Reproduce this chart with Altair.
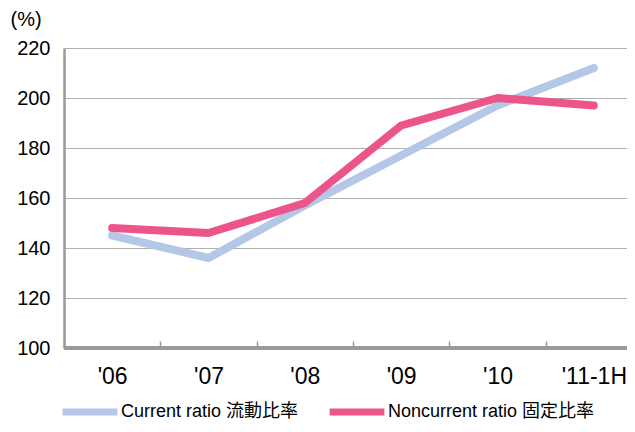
import altair as alt
import pandas as pd

years = ["'06", "'07", "'08", "'09", "'10", "'11-1H"]
current = [145, 136, 157, 177, 197, 212]
noncurrent = [148, 146, 158, 189, 200, 197]
series_names = ["Current ratio 流動比率", "Noncurrent ratio 固定比率"]
series_colors = ["#b4c7e7", "#ec558b"]

rows = []
for i, y in enumerate(years):
    rows.append({"year": y, "series": series_names[0], "value": current[i], "order": i})
    rows.append({"year": y, "series": series_names[1], "value": noncurrent[i], "order": i})
df = pd.DataFrame(rows)

FONT = "Liberation Sans, Arial, 'Noto Sans CJK JP', sans-serif"

x = alt.X("year:N", sort=years, scale=alt.Scale(range=[0, 578], paddingInner=0, paddingOuter=0),
          axis=alt.Axis(title=None, labelAngle=0, labelFontSize=23, labelColor="#000",
                        labelFont=FONT, domain=False, tickBand="extent", tickColor="#999",
                        tickWidth=1.5, tickSize=7, offset=-7, labelPadding=17, grid=False))
y = alt.Y("value:Q", scale=alt.Scale(domain=[100, 220], nice=False, zero=False),
          axis=alt.Axis(values=[100, 120, 140, 160, 180, 200, 220], title="(%)", titleAngle=0,
                        titleAlign="left", titleBaseline="middle", titleX=-54, titleY=-29,
                        titleFontSize=20, titleFontWeight="normal", titleFont=FONT, titleColor="#000",
                        labelFontSize=20, labelFont=FONT, labelColor="#000", labelPadding=14,
                        tickSize=0, domainColor="#999", domainWidth=2.5,
                        gridColor="#b0b0b0", gridWidth=1.2))

lines = alt.Chart(df).mark_line(strokeWidth=8, strokeCap="round", strokeJoin="round").encode(
    x=x, y=y, order="order:Q",
    color=alt.Color("series:N", sort=series_names,
                    scale=alt.Scale(domain=series_names, range=series_colors),
                    legend=alt.Legend(title=None, orient="none", direction="horizontal",
                                      legendX=-5, legendY=333, symbolType="stroke",
                                      symbolSize=3000, symbolStrokeWidth=7,
                                      labelFontSize=18, labelFont=FONT, labelColor="#000",
                                      labelLimit=400, columnPadding=16, labelOffset=0))
)

base_rule = alt.Chart(df).mark_rule(color="#999", strokeWidth=2.5).encode(
    y=alt.datum(100), x=alt.value(0), x2=alt.value(563)
)

chart = alt.layer(lines, base_rule).properties(
    width=563, height=300, autosize=alt.AutoSizeParams(type="none"),
    padding={"left": 56, "top": 40, "right": 0, "bottom": 76}
).configure_view(stroke=None)

chart.save("out.html", embed_options={"renderer": "svg", "actions": False})
